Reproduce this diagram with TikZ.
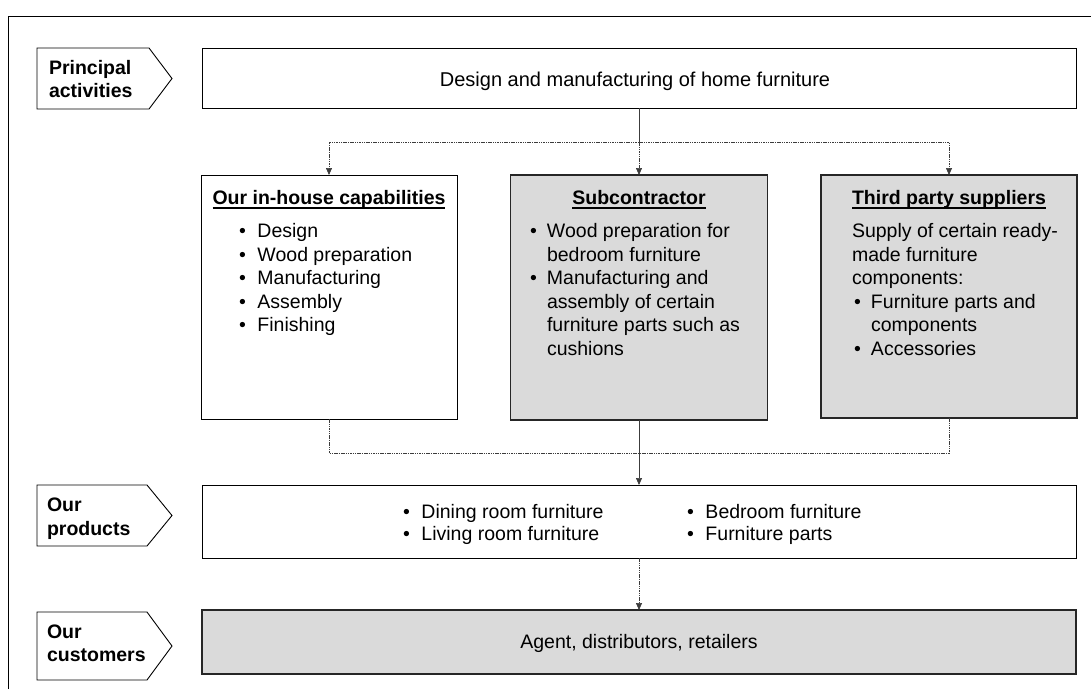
\documentclass[tikz,border=0pt]{standalone}
\usepackage{fontspec}
\setmainfont{Liberation Sans}
\usetikzlibrary{arrows.meta}
\definecolor{boxgray}{RGB}{218,218,218}
\definecolor{linegray}{RGB}{60,60,60}
\newcommand\ulbox[1]{\setbox0\hbox{#1}\rlap{\rule[-4.5pt]{\wd0}{1.3pt}}\box0}
\newcommand\bul{\makebox[18.5pt][l]{•}}
\newcommand\ind{\hspace*{18.5pt}}
\newcommand\bulb{\makebox[17pt][l]{•}}
\newcommand\indb{\hspace*{17pt}}
\newcommand\st{\rule{0pt}{15pt}}
\begin{document}
\begin{tikzpicture}[x=1pt,y=-1pt,
  every node/.style={font=\fontsize{19.5}{23.6}\selectfont, inner sep=0pt, outer sep=0pt},
  box/.style={draw=black, line width=1pt, fill=white},
  graybox/.style={draw=black!85, line width=1.6pt, fill=boxgray},
  lbl/.style={draw=black, line width=0.9pt, fill=white},
  lbltxt/.style={anchor=north west, align=left, font=\fontsize{19.5}{23.3}\selectfont\bfseries},
  txt/.style={anchor=north west, align=left},
  conn/.style={draw=linegray, line width=0.7pt},
  dconn/.style={conn, dash pattern=on 1.5pt off 0.8pt},
  tip/.style={-{Triangle[length=7pt,width=6pt]}},
]
\useasboundingbox (0,0) rectangle (1091,689);
% outer frame (top and left only)
\draw[line width=1pt] (8,689) -- (8,16) -- (1091,16);

% side labels
\draw[lbl] (37,48) -- (149,48) -- (172,78.5) -- (149,109) -- (37,109) -- cycle;
\node[lbltxt] (lpa) at (49,59) {\st Principal\\activities};
\draw[lbl] (37,485) -- (147,485) -- (172,515.5) -- (147,546) -- (37,546) -- cycle;
\node[lbltxt] (lpr) at (47,496.7) {\st Our\\products};
\draw[lbl] (37,612) -- (147,612) -- (172,646) -- (147,680) -- (37,680) -- cycle;
\node[lbltxt] (lcu) at (47,623.3) {\st Our\\customers};

% main boxes
\node[box, minimum width=874pt, minimum height=60pt] (top) at (639,78) {};
\node[anchor=base, font=\fontsize{20}{24}\selectfont] (toptext) at (635,86) {Design and manufacturing of home furniture};

\node[box, minimum width=256pt, minimum height=244pt] (b1) at (329,297) {};
\node[anchor=base] (t1) at (329,204) {\bfseries\ulbox{Our in-house capabilities}};
\node[txt] (l1) at (239,222.5) {\st\bul Design\\\bul Wood preparation\\\bul Manufacturing\\\bul Assembly\\\bul Finishing};

\node[graybox, minimum width=257pt, minimum height=245pt] (b2) at (639,297.5) {};
\node[anchor=base] (t2) at (639,204) {\bfseries\ulbox{Subcontractor}};
\node[txt] (l2) at (530,222.5) {\st\bulb Wood preparation for\\\indb bedroom furniture\\\bulb Manufacturing and\\\indb assembly of certain\\\indb furniture parts such as\\\indb cushions};

\node[graybox, minimum width=256pt, minimum height=243pt] (b3) at (949,296.5) {};
\node[anchor=base west] (t3) at (852,204) {\bfseries\ulbox{Third party suppliers}};
\node[txt] (l3) at (852,222.5) {\st Supply of certain ready-\\made furniture\\components:\\\hspace*{2pt}\bulb Furniture parts and\\\hspace*{2pt}\indb components\\\hspace*{2pt}\bulb Accessories};

\node[box, minimum width=874pt, minimum height=73pt] (prod) at (639,521.5) {};
\node[txt, font=\fontsize{19.5}{22}\selectfont] (pl) at (403,503) {\st\bul Dining room furniture\\\bul Living room furniture};
\node[txt, font=\fontsize{19.5}{22}\selectfont] (pr) at (687,503) {\st\bul Bedroom furniture\\\bul Furniture parts};

\node[graybox, minimum width=874pt, minimum height=64pt] (cust) at (639,642) {};
\node[anchor=base] (ctext) at (639,648.5) {Agent, distributors, retailers};

% connectors
\coordinate (j1) at (639,142);
\coordinate (j2) at (639,453);
\draw[conn] (top.south) -- (j1);
\draw[dconn, tip] (j1) -| (b1.north);
\draw[dconn, tip] (j1) -- (b2.north);
\draw[dconn, tip] (j1) -| (b3.north);
\draw[dconn] (b1.south) |- (j2);
\draw[dconn] (b3.south) |- (j2);
\draw[conn, tip] (b2.south) -- (prod.north);
\draw[dconn, tip] (prod.south) -- (cust.north);
\end{tikzpicture}
\end{document}
